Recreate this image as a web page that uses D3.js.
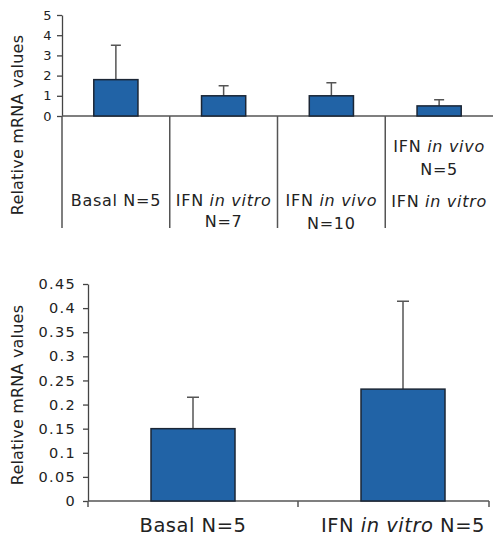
<!DOCTYPE html>
<html lang="en">
<head>
    <meta charset="UTF-8">
    <title>Relative mRNA values</title>
    <script src="https://cdn.jsdelivr.net/npm/d3@7"></script>
    <style>
        body { margin: 0; background: #ffffff; }
        text { font-family: 'DejaVu Sans', sans-serif; fill: #222; }
        .ejes path, .ejes line { stroke: #444; stroke-width: 1.3; }
        .ejes text { fill: #222; }
        .ejesArriba text { font-size: 13px; letter-spacing: 0.5px; }
        .ejesAbajo text { font-size: 14.5px; letter-spacing: 1.3px; }
        .barra { fill: #2163a6; stroke: #1b2635; stroke-width: 1.5; }
        .error { stroke: #555; stroke-width: 1.5; fill: none; }
        .divisor { stroke: #555; stroke-width: 1.5; }
        .etiqueta { font-size: 16px; letter-spacing: 0.7px; }
        .etiquetaAbajo { font-size: 19.5px; letter-spacing: 0.5px; }
        .tituloY { font-size: 16px; letter-spacing: 0.2px; }
    </style>
</head>
<body>
<div id="grafico"></div>
<script>
var w = 493, h = 537;

// grafico de arriba
var catsArriba = ["Basal", "IFN in vitro", "IFN in vivo", "IFN in vivo + in vitro"];
var mediasArriba = [1.8, 1.0, 1.0, 0.5];
var topesArriba = [3.5, 1.5, 1.65, 0.8];
var ticksArriba = [0, 1, 2, 3, 4, 5];
// cada linea: [texto, cursiva?] ...
var etiquetasArriba = [
    [[["Basal N=5", false]]],
    [[["IFN ", false], ["in vitro", true]], [["N=7", false]]],
    [[["IFN ", false], ["in vivo", true]], [["N=10", false]]],
    [[["IFN ", false], ["in vivo", true]], [["N=5", false]], [["IFN ", false], ["in vitro", true]]]
];
var lineasY = [
    [206],
    [206, 227],
    [206, 229],
    [152, 175, 207]
];

// grafico de abajo
var catsAbajo = ["Basal", "IFN in vitro"];
var mediasAbajo = [0.15, 0.232];
var topesAbajo = [0.215, 0.414];
var ticksAbajo = [0, 0.05, 0.1, 0.15, 0.2, 0.25, 0.3, 0.35, 0.4, 0.45];
var etiquetasAbajo = [
    [["Basal N=5", false]],
    [["IFN ", false], ["in vitro", true], [" N=5", false]]
];

var svg = d3.select("#grafico").append("svg")
    .attr("width", w)
    .attr("height", h);

// ---------- arriba ----------
var xA = d3.scaleBand().domain(catsArriba).range([62, 493])
    .paddingInner(0.59).paddingOuter(0.295);
var yA = d3.scaleLinear().domain([0, 5]).range([116, 15]);
var pasoA = xA.step();

svg.append("g")
    .attr("class", "ejes ejesArriba")
    .attr("transform", "translate(62,0)")
    .call(d3.axisLeft(yA).tickValues(ticksArriba).tickSize(5).tickPadding(5).tickSizeOuter(0).tickFormat(d3.format("d")));

// linea base
svg.append("line")
    .attr("class", "divisor")
    .attr("x1", 62).attr("x2", 493)
    .attr("y1", yA(0)).attr("y2", yA(0));

// divisores bajo la linea base
svg.selectAll(".divA")
    .data(catsArriba)
    .enter()
    .append("line")
    .attr("class", "divisor")
    .attr("x1", function(d){ return xA(d) - pasoA * 0.295; })
    .attr("x2", function(d){ return xA(d) - pasoA * 0.295; })
    .attr("y1", yA(0)).attr("y2", 228);

svg.selectAll(".errA")
    .data(catsArriba)
    .enter()
    .append("path")
    .attr("class", "error")
    .attr("d", function(d, i){
        var cx = xA(d) + xA.bandwidth() / 2;
        return "M" + cx + "," + yA(mediasArriba[i]) + "V" + yA(topesArriba[i]) +
               "M" + (cx - 5) + "," + yA(topesArriba[i]) + "H" + (cx + 5);
    });

svg.selectAll(".barA")
    .data(catsArriba)
    .enter()
    .append("rect")
    .attr("class", "barra")
    .attr("x", function(d){ return xA(d); })
    .attr("width", xA.bandwidth())
    .attr("y", function(d, i){ return yA(mediasArriba[i]); })
    .attr("height", function(d, i){ return yA(0) - yA(mediasArriba[i]); });

catsArriba.forEach(function(c, i){
    var cx = xA(c) + xA.bandwidth() / 2;
    etiquetasArriba[i].forEach(function(linea, j){
        var t = svg.append("text")
            .attr("class", "etiqueta")
            .attr("x", cx)
            .attr("y", lineasY[i][j])
            .attr("text-anchor", "middle");
        linea.forEach(function(seg){
            t.append("tspan").text(seg[0]).style("font-style", seg[1] ? "italic" : "normal");
        });
    });
});

svg.append("text")
    .attr("class", "tituloY")
    .attr("transform", "translate(23,125) rotate(-90)")
    .attr("text-anchor", "middle")
    .text("Relative mRNA values");

// ---------- abajo ----------
var xB = d3.scaleBand().domain(catsAbajo).range([88, 508])
    .paddingInner(0.6).paddingOuter(0.3);
var yB = d3.scaleLinear().domain([0, 0.45]).range([501, 284]);
var pasoB = xB.step();

svg.append("g")
    .attr("class", "ejes ejesAbajo")
    .attr("transform", "translate(88,0)")
    .call(d3.axisLeft(yB).tickValues(ticksAbajo).tickSize(5).tickPadding(7).tickSizeOuter(0).tickFormat(function(d){ return String(+d.toFixed(2)); }));

svg.append("line")
    .attr("class", "divisor")
    .attr("x1", 88).attr("x2", 489)
    .attr("y1", yB(0)).attr("y2", yB(0));

var marcasB = catsAbajo.map(function(d){ return xB(d) - pasoB * 0.3; }).concat([489]);
svg.selectAll(".marcaB")
    .data(marcasB)
    .enter()
    .append("line")
    .attr("class", "divisor")
    .attr("x1", function(d){ return d; })
    .attr("x2", function(d){ return d; })
    .attr("y1", yB(0)).attr("y2", yB(0) + 6);

svg.selectAll(".errB")
    .data(catsAbajo)
    .enter()
    .append("path")
    .attr("class", "error")
    .attr("d", function(d, i){
        var cx = xB(d) + xB.bandwidth() / 2;
        return "M" + cx + "," + yB(mediasAbajo[i]) + "V" + yB(topesAbajo[i]) +
               "M" + (cx - 6) + "," + yB(topesAbajo[i]) + "H" + (cx + 6);
    });

svg.selectAll(".barB")
    .data(catsAbajo)
    .enter()
    .append("rect")
    .attr("class", "barra")
    .attr("x", function(d){ return xB(d); })
    .attr("width", xB.bandwidth())
    .attr("y", function(d, i){ return yB(mediasAbajo[i]); })
    .attr("height", function(d, i){ return yB(0) - yB(mediasAbajo[i]); });

catsAbajo.forEach(function(c, i){
    var cx = xB(c) + xB.bandwidth() / 2;
    var t = svg.append("text")
        .attr("class", "etiquetaAbajo")
        .attr("x", cx)
        .attr("y", 532)
        .attr("text-anchor", "middle");
    etiquetasAbajo[i].forEach(function(seg){
        t.append("tspan").text(seg[0]).style("font-style", seg[1] ? "italic" : "normal");
    });
});

svg.append("text")
    .attr("class", "tituloY")
    .attr("transform", "translate(23,395) rotate(-90)")
    .attr("text-anchor", "middle")
    .text("Relative mRNA values");
</script>
</body>
</html>
